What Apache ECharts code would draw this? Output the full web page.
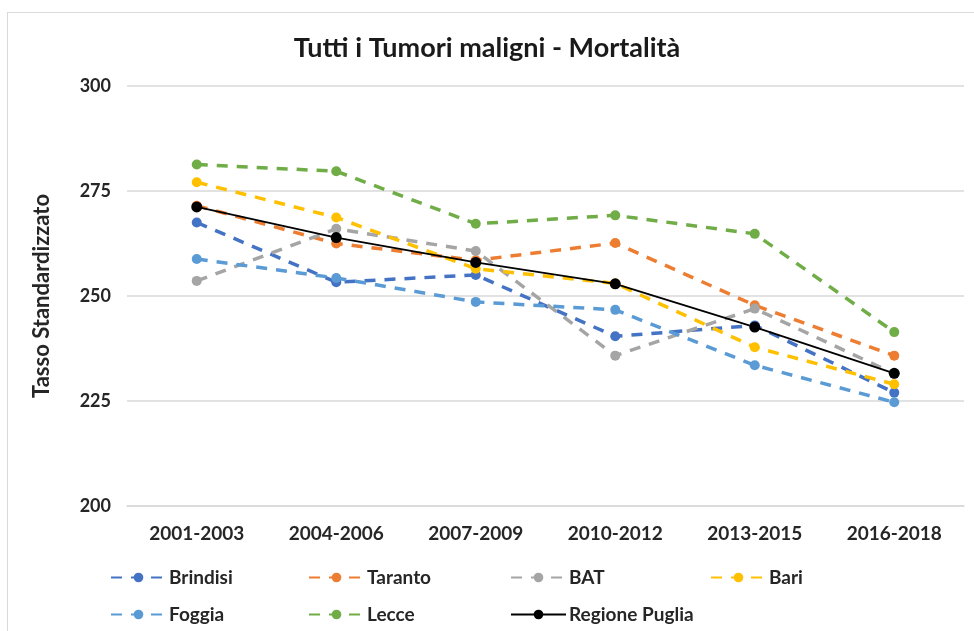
<!DOCTYPE html>
<html>
<head>
    <meta charset="utf-8"/>
    <title>Tutti i Tumori maligni - Mortalità</title>
    <script src="https://cdn.jsdelivr.net/npm/echarts@6/dist/echarts.min.js"></script>
    <style>
        html, body { margin: 0; padding: 0; background: #fff; }
        #frame {
            position: absolute; left: 7px; top: 12px; width: 980px; height: 640px;
            border: 1px solid #d9d9d9; box-sizing: border-box;
        }
        #chart { position: absolute; left: 0; top: 0; width: 974px; height: 631px; }
    </style>
</head>
<body>
<div id="frame"></div>
<div id="chart"></div>
<script>
    // periodi
    var periodi = ['2001-2003', '2004-2006', '2007-2009', '2010-2012', '2013-2015', '2016-2018'];
    var yTicks = [200, 225, 250, 275, 300];

    // tassi standardizzati
    var brindisi = [267.5, 253.3, 255.0, 240.4, 243.0, 227.0];
    var taranto = [271.5, 262.5, 258.5, 262.6, 247.8, 235.8];
    var bat = [253.6, 266.0, 260.7, 235.8, 247.0, 231.5];
    var bari = [277.1, 268.7, 256.5, 253.0, 237.8, 229.0];
    var foggia = [258.8, 254.3, 248.6, 246.7, 233.5, 224.7];
    var lecce = [281.3, 279.7, 267.2, 269.2, 264.8, 241.4];
    var puglia = [271.2, 263.9, 258.0, 252.9, 242.6, 231.6];

    var font = 'Lato, "Open Sans", sans-serif';

    function tratteggio(nome, dati, colore) {
        return {
            name: nome,
            type: 'line',
            data: dati,
            symbol: 'circle',
            symbolSize: 10,
            itemStyle: { color: colore },
            lineStyle: { color: colore, width: 3.5, type: [11, 9] },
            emphasis: { disabled: true }
        };
    }

    function voce(nome, x, y) {
        return {
            data: [nome],
            left: x,
            top: y,
            itemWidth: 55,
            itemHeight: 12,
            itemGap: 0,
            selectedMode: false,
            textStyle: { fontFamily: font, fontSize: 19, fontWeight: 'bold', color: '#262626', padding: [0, 0, 0, -2] }
        };
    }

    var chart = echarts.init(document.getElementById('chart'));
    chart.setOption({
        animation: false,
        title: {
            text: 'Tutti i Tumori maligni - Mortalità',
            left: 'center',
            top: 30,
            textStyle: { fontFamily: font, fontSize: 27, fontWeight: 'bold', color: '#1a1a1a' }
        },
        grid: { left: 127, right: 10, top: 86, bottom: 125 },
        legend: [
            voce('Brindisi', 105, 563),
            voce('Taranto', 303, 563),
            voce('BAT', 505, 563),
            voce('Bari', 705, 563),
            voce('Foggia', 105, 600),
            voce('Lecce', 303, 600),
            voce('Regione Puglia', 505, 600)
        ],
        xAxis: {
            type: 'category',
            data: periodi,
            axisTick: { show: false },
            axisLine: { lineStyle: { color: '#d9d9d9', width: 1.5 } },
            axisLabel: { fontFamily: font, fontSize: 19, fontWeight: 'bold', color: '#262626', margin: 18 }
        },
        yAxis: {
            type: 'value',
            min: yTicks[0],
            max: yTicks[yTicks.length - 1],
            interval: 25,
            name: 'Tasso Standardizzato',
            nameLocation: 'middle',
            nameGap: 74,
            nameTextStyle: { fontFamily: font, fontSize: 22, fontWeight: 'bold', color: '#262626' },
            axisLabel: { fontFamily: font, fontSize: 18, fontWeight: 'bold', color: '#262626', margin: 16 },
            splitLine: { lineStyle: { color: '#d9d9d9', width: 1.5 } }
        },
        series: [
            tratteggio('Brindisi', brindisi, '#4472C4'),
            tratteggio('Taranto', taranto, '#ED7D31'),
            tratteggio('BAT', bat, '#A5A5A5'),
            tratteggio('Bari', bari, '#FFC000'),
            tratteggio('Foggia', foggia, '#5B9BD5'),
            tratteggio('Lecce', lecce, '#70AD47'),
            {
                name: 'Regione Puglia',
                type: 'line',
                data: puglia,
                symbol: 'circle',
                symbolSize: 11,
                itemStyle: { color: '#000' },
                lineStyle: { color: '#000', width: 1.8 },
                emphasis: { disabled: true }
            }
        ]
    });
</script>
</body>
</html>
